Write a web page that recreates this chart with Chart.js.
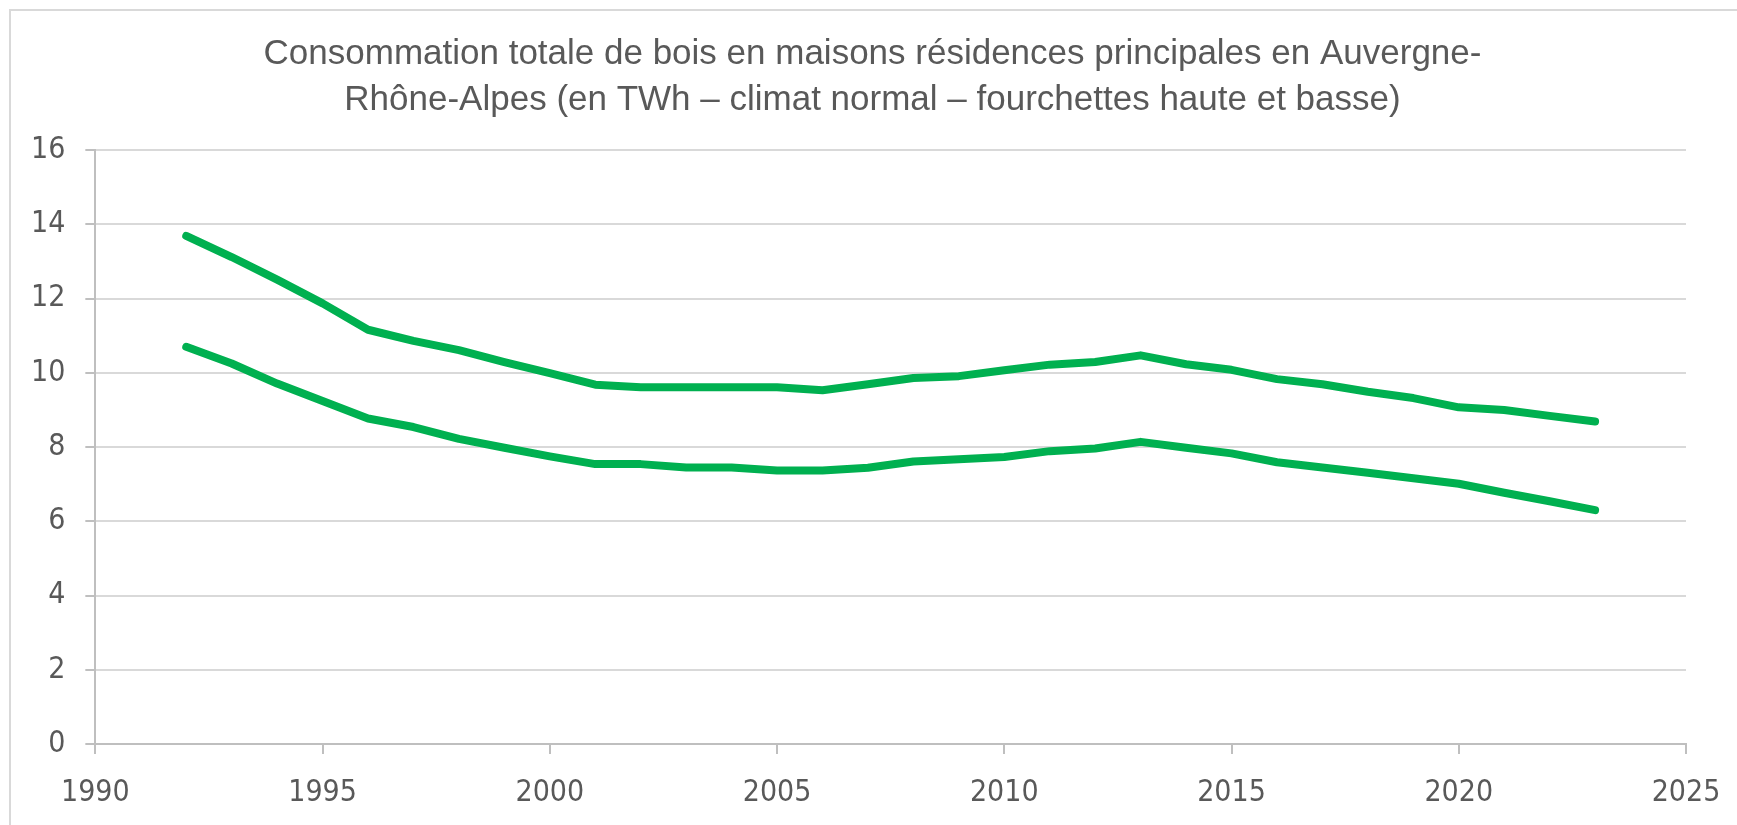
<!DOCTYPE html>
<html lang="fr">
<head>
<meta charset="utf-8">
<title>Consommation de bois - Auvergne-Rhône-Alpes</title>
<script src="https://cdn.jsdelivr.net/npm/chart.js@4.4.1/dist/chart.umd.min.js"></script>
<style>
  html, body { margin: 0; padding: 0; background: #fff; overflow: hidden; }
  #cadre {
    position: absolute; left: 9px; top: 9px; width: 2000px; height: 2000px;
    border-top: 2px solid #d9d9d9; border-left: 2px solid #d9d9d9;
  }
  #zone { position: absolute; left: 0; top: 0; width: 1737px; height: 825px; }
</style>
</head>
<body>
<div id="cadre"></div>
<div id="zone"><canvas id="graficoBois"></canvas></div>
<script>
const annees = [1992, 1993, 1994, 1995, 1996, 1997, 1998, 1999, 2000, 2001, 2002, 2003, 2004, 2005, 2006, 2007,
  2008, 2009, 2010, 2011, 2012, 2013, 2014, 2015, 2016, 2017, 2018, 2019, 2020, 2021, 2022, 2023];

// fourchette haute (TWh)
const haute = [13.69, 13.12, 12.51, 11.87, 11.16, 10.86, 10.61, 10.29, 9.99, 9.68, 9.61, 9.61, 9.61, 9.61, 9.53, 9.69,
  9.86, 9.91, 10.07, 10.22, 10.29, 10.47, 10.23, 10.08, 9.83, 9.69, 9.49, 9.32, 9.07, 9.00, 8.84, 8.69];

// fourchette basse (TWh)
const basse = [10.70, 10.25, 9.71, 9.24, 8.77, 8.54, 8.22, 7.98, 7.75, 7.54, 7.54, 7.45, 7.45, 7.37, 7.37, 7.44,
  7.61, 7.67, 7.73, 7.89, 7.96, 8.14, 7.98, 7.83, 7.59, 7.45, 7.31, 7.16, 7.01, 6.77, 6.54, 6.30];

const titre = [
  'Consommation totale de bois en maisons résidences principales en Auvergne-',
  'Rhône-Alpes (en TWh – climat normal – fourchettes haute et basse)'
];

const policeAxes = "'Liberation Sans Narrow', 'DejaVu Sans Condensed', 'Liberation Sans', sans-serif";

function serie(valores) {
  return annees.map((a, i) => ({ x: a, y: valores[i] }));
}

// le titre Excel est un peu décalé vers la droite
const decalageTitre = {
  id: 'decalageTitre',
  afterLayout(chart) {
    if (!chart.titleBlock) return;
    chart.titleBlock.left += 24;
    chart.titleBlock.right += 24;
  }
};

function gerarGrafico() {
  const ctx = document.getElementById('graficoBois').getContext('2d');
  const linha = {
    fill: false,
    borderColor: '#00b050',
    borderWidth: 8,
    borderCapStyle: 'round',
    borderJoinStyle: 'round',
    pointRadius: 0,
    tension: 0
  };

  new Chart(ctx, {
    type: 'line',
    data: {
      datasets: [
        { ...linha, label: 'Fourchette haute', data: serie(haute) },
        { ...linha, label: 'Fourchette basse', data: serie(basse) }
      ]
    },
    options: {
      responsive: true,
      maintainAspectRatio: false,
      animation: false,
      layout: { padding: { left: 11, right: 51, top: 31, bottom: -7 } },
      plugins: {
        legend: { display: false },
        tooltip: { enabled: false },
        title: {
          display: true,
          text: titre,
          color: '#595959',
          font: { family: "'Liberation Sans', Arial, sans-serif", size: 35, weight: 'normal', lineHeight: 1.33 },
          padding: { top: 0, bottom: 26 }
        }
      },
      scales: {
        x: {
          type: 'linear',
          min: 1990,
          max: 2025,
          // la marge à droite est donnée par layout.padding
          afterFit: echelle => { echelle.paddingRight = 0; },
          border: { color: '#bfbfbf', width: 2 },
          grid: { drawOnChartArea: false, drawTicks: true, tickLength: 10, tickColor: '#bfbfbf', lineWidth: 2 },
          ticks: {
            stepSize: 5,
            padding: 24,
            color: '#595959',
            maxRotation: 0,
            font: { family: policeAxes, size: 30, lineHeight: 1 },
            callback: valor => String(valor)
          }
        },
        y: {
          min: 0,
          max: 16,
          border: { color: '#bfbfbf', width: 2 },
          grid: { color: '#d9d9d9', lineWidth: 2, drawTicks: true, tickLength: 10, tickColor: '#bfbfbf' },
          ticks: {
            stepSize: 2,
            padding: 20,
            color: '#595959',
            font: { family: policeAxes, size: 30 }
          }
        }
      }
    },
    plugins: [decalageTitre]
  });
}

document.addEventListener('DOMContentLoaded', () => {
  gerarGrafico();
});
</script>
</body>
</html>
